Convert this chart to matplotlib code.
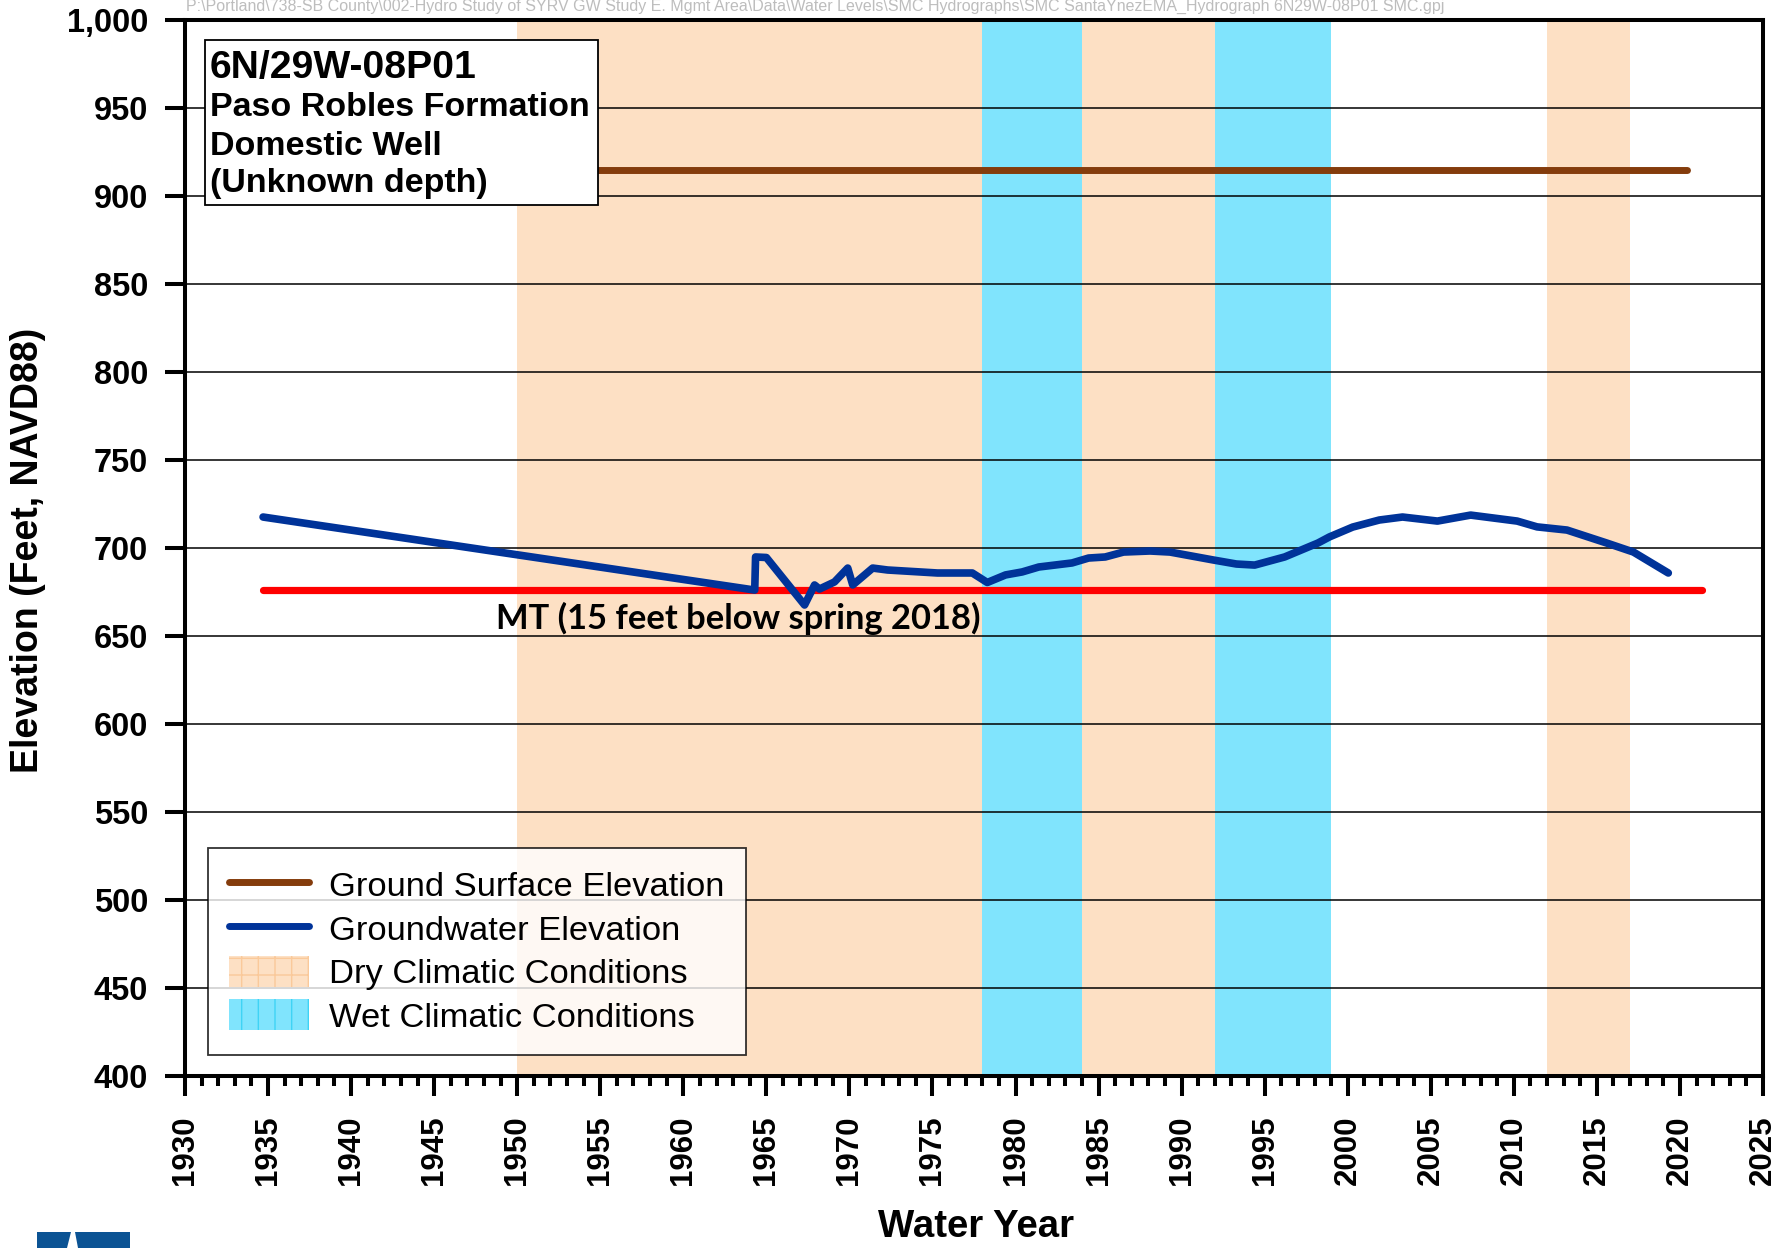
import matplotlib
matplotlib.use("Agg")
import matplotlib.pyplot as plt
from matplotlib.lines import Line2D
from matplotlib.patches import Patch, Rectangle, Polygon
from matplotlib.ticker import MultipleLocator

plt.rcParams['font.family'] = ['Liberation Sans', 'DejaVu Sans']

# ---- data -----------------------------------------------------------------
well_id = "6N/29W-08P01"
well_info = ["Paso Robles Formation", "Domestic Well", "(Unknown depth)"]

gw_years = [1934.7, 1964.3, 1964.35, 1965.0, 1967.3, 1967.9, 1968.2, 1969.1,
            1969.9, 1970.2, 1971.4, 1972.3, 1975.3, 1977.4, 1978.3, 1979.4,
            1980.4, 1981.4, 1983.4, 1984.4, 1985.4, 1986.5, 1988.1, 1989.3,
            1991.9, 1993.3, 1994.4, 1996.2, 1998.2, 1998.9, 2000.3, 2001.9,
            2003.3, 2005.4, 2007.4, 2010.2, 2011.4, 2013.2, 2015.6, 2017.2,
            2019.3]
gw_elev = [717.6, 676.1, 694.9, 694.6, 667.6, 679.0, 676.7, 680.7,
           688.6, 679.0, 688.6, 687.5, 685.8, 685.8, 680.4, 684.7,
           686.4, 689.2, 691.5, 694.3, 694.9, 697.7, 698.3, 697.7,
           693.2, 690.9, 690.3, 694.9, 702.8, 706.3, 711.9, 715.9,
           717.6, 715.3, 718.7, 715.3, 712.0, 710.2, 702.8, 697.7,
           685.8]

ground_years = [1935.0, 2020.4]
ground_elev = [915.0, 915.0]

mt_years = [1934.7, 2021.3]
mt_elev = [676.0, 676.0]
mt_label = "MT (15 feet below spring 2018)"

dry_periods = [(1950, 1978), (1984, 1992), (2012, 2017)]
wet_periods = [(1978, 1984), (1992, 1999)]

x_ticks = list(range(1930, 2026, 5))
y_ticks = list(range(400, 1001, 50))

file_path = (r"P:\Portland\738-SB County\002-Hydro Study of SYRV GW Study E. Mgmt Area"
             r"\Data\Water Levels\SMC Hydrographs\SMC SantaYnezEMA_Hydrograph 6N29W-08P01 SMC.gpj")

# ---- styling ---------------------------------------------------------------
DRY = '#FDE0C4'
WET = '#80E4FD'
BLUE = '#003399'
RED = '#FF0000'
BROWN = '#843C0C'

fig = plt.figure(figsize=(17.9, 12.48), dpi=100)
ax = fig.add_axes([0.10335, 0.13782, 0.88156, 0.84615])

for a, b in dry_periods:
    ax.axvspan(a, b, facecolor=DRY, lw=0, zorder=0)
for a, b in wet_periods:
    ax.axvspan(a, b, facecolor=WET, lw=0, zorder=0)

ax.set_xlim(1930, 2025)
ax.set_ylim(400, 1000)

ax.yaxis.grid(True, color='black', lw=1.1, zorder=1)
ax.set_axisbelow(False)

ax.plot(ground_years, ground_elev, color=BROWN, lw=5.0, solid_capstyle='round', zorder=3)
ax.plot(mt_years, mt_elev, color=RED, lw=5.2, solid_capstyle='round', zorder=3)
ax.plot(gw_years, gw_elev, color=BLUE, lw=5.5, solid_capstyle='round',
        solid_joinstyle='round', zorder=4)

ax.text(1963.3, 660.2, mt_label, ha='center', va='center', fontsize=24.8,
        fontweight='bold', family=['Lato', 'DejaVu Sans'], zorder=5)

# ticks
ax.set_xticks(x_ticks)
ax.set_xticklabels([str(v) for v in x_ticks], rotation=90, fontsize=22.5, fontweight='bold')
ax.xaxis.set_minor_locator(MultipleLocator(1))
ax.set_yticks(y_ticks)
ax.set_yticklabels([f"{v:,}" for v in y_ticks], fontsize=23.5, fontweight='bold')
ax.tick_params(axis='both', which='major', length=14.4, width=2.9, pad=12, direction='out')
ax.tick_params(axis='x', which='minor', length=7.2, width=2.9, direction='out')
ax.tick_params(axis='x', which='major', pad=14)
for sp in ax.spines.values():
    sp.set_linewidth(2.9)
    sp.set_zorder(6)

# well description box
box = Rectangle((0.0127, 0.8248), 0.2490, 0.1562, transform=ax.transAxes,
                facecolor='white', edgecolor='black', lw=1.3, zorder=7)
ax.add_patch(box)
ax.text(0.0158, 0.9545, well_id, transform=ax.transAxes, fontsize=28.2,
        fontweight='bold', va='center', ha='left', zorder=8)
for i, line in enumerate(well_info):
    ax.text(0.0158, [0.9170, 0.8805, 0.8450][i], line, transform=ax.transAxes,
            fontsize=24.5, fontweight='bold', va='center', ha='left', zorder=8)

# legend
handles = [
    Line2D([0], [0], color=BROWN, lw=5.0, solid_capstyle='round'),
    Line2D([0], [0], color=BLUE, lw=5.0, solid_capstyle='round'),
    Patch(facecolor=DRY, edgecolor='#FAC99A', lw=0, hatch='+'),
    Patch(facecolor=WET, edgecolor='#3FD3F5', lw=0, hatch='|'),
]
labels = ["Ground Surface Elevation", "Groundwater Elevation",
          "Dry Climatic Conditions", "Wet Climatic Conditions"]
leg = ax.legend(handles, labels, loc='lower left', bbox_to_anchor=(0.0146, 0.0199),
                borderaxespad=0, fontsize=24.8, frameon=True, fancybox=False,
                handlelength=2.3, handleheight=1.0, handletextpad=0.6,
                labelspacing=0.27, borderpad=0.62)
leg.get_frame().set_edgecolor('black')
leg.get_frame().set_linewidth(1.3)
leg.set_zorder(8)

# axis titles
fig.text(28 / 1790, 1 - 550 / 1248, "Elevation (Feet, NAVD88)", rotation=90,
         ha='center', va='center', fontsize=27, fontweight='bold')
fig.text(976 / 1790, 1 - 1227 / 1248, "Water Year", ha='center', va='center',
         fontsize=27.6, fontweight='bold')

# project file path
fig.text(186 / 1790, 1 - 6 / 1248, file_path, ha='left', va='center', fontsize=11.5,
         color='#BDBDBD', family=['Liberation Sans Narrow', 'Liberation Sans', 'DejaVu Sans'])

# corner logo fragment
H = 1248.0
def fp(x, y):
    return (x / 1790, 1 - y / H)
logo_color = '#0B5394'
fig.patches.append(Polygon([fp(37, 1232), fp(71, 1232), fp(67, 1248), fp(37, 1248)],
                           closed=True, transform=fig.transFigure, facecolor=logo_color,
                           edgecolor='none'))
fig.patches.append(Polygon([fp(75, 1232), fp(130, 1232), fp(130, 1248), fp(78, 1248)],
                           closed=True, transform=fig.transFigure, facecolor=logo_color,
                           edgecolor='none'))

fig.savefig('out.png', dpi=100)
